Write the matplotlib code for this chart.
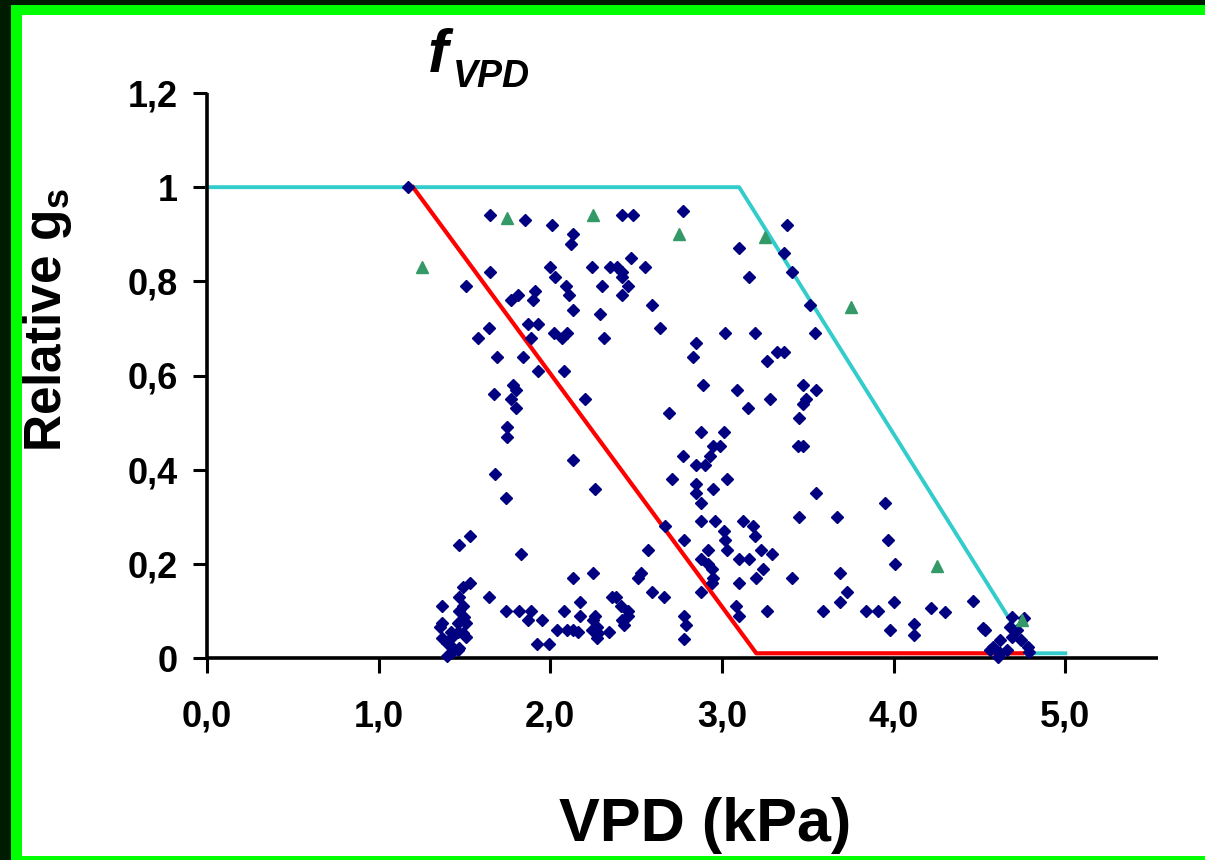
import numpy as np
import matplotlib
matplotlib.use("Agg")
import matplotlib.pyplot as plt
from matplotlib.patches import Rectangle

plt.rcParams['font.family'] = ['Liberation Sans', 'DejaVu Sans']
plt.rcParams['mathtext.fontset'] = 'custom'
plt.rcParams['mathtext.bf'] = 'Liberation Sans:bold'
plt.rcParams['mathtext.rm'] = 'Liberation Sans'

# observed relative stomatal conductance vs VPD (kPa, relative gs)
obs = np.array([
    [1.17, 1.00], [1.65, 0.94], [1.85, 0.93], [2.01, 0.92], [2.13, 0.90],
    [2.12, 0.88], [2.42, 0.94], [2.48, 0.94], [2.77, 0.95], [3.38, 0.92],
    [3.10, 0.87], [3.36, 0.86], [3.41, 0.82], [3.16, 0.81], [1.65, 0.82],
    [1.51, 0.79], [2.00, 0.83], [2.03, 0.81], [2.24, 0.83], [2.35, 0.83],
    [2.39, 0.83], [2.42, 0.82], [2.42, 0.81], [2.47, 0.85], [2.55, 0.83],
    [2.30, 0.79], [2.45, 0.79], [2.42, 0.77], [2.09, 0.79], [2.11, 0.77],
    [1.91, 0.78], [1.90, 0.76], [1.77, 0.76], [1.81, 0.77], [2.13, 0.74],
    [2.29, 0.73], [2.59, 0.75], [2.64, 0.70], [2.31, 0.68], [1.64, 0.70],
    [1.58, 0.68], [1.87, 0.71], [1.93, 0.71], [1.89, 0.68], [2.02, 0.69],
    [2.10, 0.69], [2.07, 0.68], [1.69, 0.64], [1.84, 0.64], [1.93, 0.61],
    [2.08, 0.61], [1.78, 0.58], [1.80, 0.57], [1.67, 0.56], [1.77, 0.55],
    [1.80, 0.53], [2.20, 0.55], [1.75, 0.49], [1.75, 0.47], [2.13, 0.42],
    [2.85, 0.67], [2.83, 0.64], [3.02, 0.69], [3.19, 0.69], [3.32, 0.65],
    [3.36, 0.65], [3.26, 0.63], [2.89, 0.58], [3.09, 0.57], [3.15, 0.53],
    [3.28, 0.55], [2.69, 0.52], [2.88, 0.48], [3.01, 0.48], [2.95, 0.45],
    [2.99, 0.45], [2.93, 0.43], [2.77, 0.43], [2.85, 0.41], [2.90, 0.41],
    [3.51, 0.75], [3.54, 0.69], [3.47, 0.58], [3.55, 0.57], [3.49, 0.55],
    [3.47, 0.54], [3.45, 0.51], [3.44, 0.45], [3.47, 0.45], [2.71, 0.38],
    [2.85, 0.37], [2.85, 0.35], [2.88, 0.33], [2.95, 0.36], [3.03, 0.38],
    [3.55, 0.35], [3.95, 0.33], [2.67, 0.28], [2.78, 0.25], [2.88, 0.29],
    [2.96, 0.29], [3.12, 0.29], [3.18, 0.28], [3.19, 0.26], [3.01, 0.27],
    [3.02, 0.25], [3.03, 0.23], [2.92, 0.23], [2.88, 0.21], [2.92, 0.20],
    [2.94, 0.19], [2.95, 0.17], [2.94, 0.16], [3.10, 0.21], [3.16, 0.21],
    [3.23, 0.23], [3.29, 0.22], [3.24, 0.19], [3.20, 0.17], [3.45, 0.30],
    [3.67, 0.30], [3.97, 0.25], [4.01, 0.20], [3.41, 0.17], [3.69, 0.18],
    [3.73, 0.14], [3.69, 0.12], [4.00, 0.12], [3.84, 0.10], [3.91, 0.10],
    [3.98, 0.06], [3.59, 0.10], [3.26, 0.10], [3.08, 0.11], [3.10, 0.09],
    [3.10, 0.16], [2.88, 0.14], [2.57, 0.23], [2.53, 0.18], [2.59, 0.14],
    [2.66, 0.13], [2.78, 0.09], [2.79, 0.07], [2.78, 0.04], [1.68, 0.39],
    [1.74, 0.34], [2.26, 0.36], [1.53, 0.26], [1.47, 0.24], [1.83, 0.22],
    [1.64, 0.13], [1.37, 0.11], [1.53, 0.16], [1.49, 0.15], [1.47, 0.13],
    [1.49, 0.11], [1.74, 0.10], [1.82, 0.10], [1.89, 0.10], [1.87, 0.08],
    [1.95, 0.08], [2.08, 0.10], [2.17, 0.12], [2.17, 0.09], [2.13, 0.17],
    [2.25, 0.18], [2.04, 0.06], [2.10, 0.06], [2.13, 0.06], [2.16, 0.055],
    [1.92, 0.03], [1.99, 0.03], [2.26, 0.09], [2.25, 0.08], [2.27, 0.065],
    [2.24, 0.06], [2.28, 0.053], [2.27, 0.042], [2.34, 0.055], [2.36, 0.13],
    [2.38, 0.13], [2.41, 0.11], [2.45, 0.10], [2.45, 0.09], [2.42, 0.08],
    [2.43, 0.07], [2.51, 0.17], [1.37, 0.074], [1.36, 0.066], [1.42, 0.055],
    [1.43, 0.045], [1.46, 0.055], [1.49, 0.053], [1.51, 0.045], [1.37, 0.042],
    [1.40, 0.032], [1.43, 0.023], [1.46, 0.017], [1.42, 0.011], [1.47, 0.021],
    [1.51, 0.074], [1.50, 0.087], [1.47, 0.10], [1.46, 0.074], [1.40, 0.005],
    [4.12, 0.072], [4.12, 0.049], [4.22, 0.106], [4.30, 0.098], [4.46, 0.121],
    [4.52, 0.064], [4.53, 0.059], [4.69, 0.087], [4.76, 0.085], [4.68, 0.066],
    [4.72, 0.059], [4.69, 0.045], [4.74, 0.038], [4.78, 0.023], [4.79, 0.013],
    [4.62, 0.038], [4.58, 0.023], [4.56, 0.017], [4.62, 0.011], [4.66, 0.017],
    [4.61, 0.002],
])

# binned maxima (green triangles)
bin_vpd = [1.25, 1.75, 2.25, 2.75, 3.25, 3.75, 4.25, 4.75]
bin_gs = [0.83, 0.935, 0.94, 0.90, 0.895, 0.745, 0.195, 0.08]

# boundary line (cyan) and fitted line (red)
upper_vpd = [0.0, 3.1, 4.8, 5.0]
upper_gs = [1.0, 1.0, 0.01, 0.01]
fit_vpd = [1.2, 3.2, 4.75]
fit_gs = [1.0, 0.01, 0.01]

xticks = [0, 1, 2, 3, 4, 5]
xtick_labels = ['0,0', '1,0', '2,0', '3,0', '4,0', '5,0']
yticks = [0, 0.2, 0.4, 0.6, 0.8, 1.0, 1.2]
ytick_labels = ['0', '0,2', '0,4', '0,6', '0,8', '1', '1,2']

W, H = 1205, 860
fig = plt.figure(figsize=(W / 100, H / 100), dpi=100)
fig.patch.set_facecolor('white')

# slide frame
dark = '#001c00'
green = '#00ff00'
for x0, y0, w, h, c in [
    (0, 0, 11, H, dark), (0, 0, W, 5, dark),
    (11, 5, 11, H - 5, green), (11, 5, W - 11, 10, green),
    (11, H - 4, W - 11, 4, green),
]:
    fig.add_artist(Rectangle((x0 / W, 1 - (y0 + h) / H), w / W, h / H,
                             transform=fig.transFigure, color=c, lw=0))

ax = fig.add_axes([207 / W, 1 - 658 / H, (1158 - 207) / W, (658 - 93) / H])
ax.set_xlim(0, 5.54)
ax.set_ylim(0, 1.2)
for s in ['top', 'right']:
    ax.spines[s].set_visible(False)
for s in ['left', 'bottom']:
    ax.spines[s].set_linewidth(2.6)
    ax.spines[s].set_capstyle('butt')

ax.plot(upper_vpd, upper_gs, color='#33cccc', lw=2.8, zorder=2,
        clip_on=False)
ax.plot(fit_vpd, fit_gs, color='#ff0000', lw=3.0, zorder=2, clip_on=False)
ax.plot(obs[:, 0], obs[:, 1], ls='none', marker='D', ms=6.0,
        color='#000080', mec='#000080', zorder=3, clip_on=False)
ax.plot(bin_vpd, bin_gs, ls='none', marker='^', ms=8.5, color='#339966',
        zorder=4, clip_on=False)

ax.set_xticks(xticks)
ax.set_xticklabels(xtick_labels)
ax.set_yticks(yticks)
ax.set_yticklabels(ytick_labels)
ax.tick_params(axis='y', direction='out', length=10, width=2.2, pad=11,
               labelsize=26)
ax.tick_params(axis='x', direction='out', length=11, width=2.2, pad=19,
               labelsize=26)
for lab in ax.get_xticklabels() + ax.get_yticklabels():
    lab.set_fontweight('bold')

fig.text(47 / W, 1 - 320 / H, r'Relative $\mathbf{g_s}$', rotation=90,
         ha='center', va='center', fontsize=37, fontweight='bold')
fig.text(705 / W, 1 - 825 / H, 'VPD (kPa)', ha='center', va='center',
         fontsize=44, fontweight='bold')
fig.text(428 / W, 1 - 72 / H, 'f', fontsize=44, fontweight='bold',
         style='italic', ha='left', va='baseline')
fig.text(453 / W, 1 - 87 / H, 'VPD', fontsize=27, fontweight='bold',
         style='italic', ha='left', va='baseline')

fig.savefig('out.png', dpi=100, facecolor=fig.get_facecolor())
